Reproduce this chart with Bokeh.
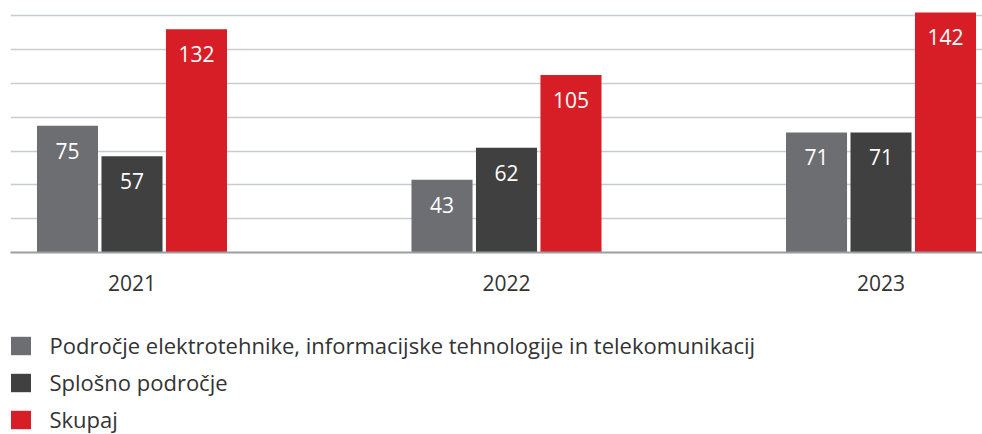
from bokeh.plotting import figure
from bokeh.models import (ColumnDataSource, Range1d, FixedTicker, Legend, LegendItem)
from bokeh.layouts import column
from bokeh.transform import dodge
from bokeh.core.properties import value
from bokeh.embed import file_html
from bokeh.resources import INLINE

years = ["2021", "2022", "2023"]
series_names = [
    "Področje elektrotehnike, informacijske tehnologije in telekomunikacij",
    "Splošno področje",
    "Skupaj",
]
elektro = [75, 43, 71]
splosno = [57, 62, 71]
skupaj = [132, 105, 142]
y_ticks = [0, 20, 40, 60, 80, 100, 120, 140]

colors = ["#6d6e72", "#404040", "#d71e26"]
FONT = "Open Sans"

idx = list(range(len(years)))
src = ColumnDataSource(dict(
    x=idx, elektro=elektro, splosno=splosno, skupaj=skupaj,
    elektro_t=[str(v) for v in elektro],
    splosno_t=[str(v) for v in splosno],
    skupaj_t=[str(v) for v in skupaj],
))

p = figure(width=982, height=300, output_backend="svg", toolbar_location=None,
           x_range=Range1d(-0.3244, 2.2710), y_range=Range1d(0, 149.05),
           min_border_left=10, min_border_right=0, min_border_top=0,
           min_border_bottom=48)
p.outline_line_color = None
p.background_fill_color = "white"
p.border_fill_color = "white"

offs = [-0.1722, 0.0, 0.1722]
keys = ["elektro", "splosno", "skupaj"]
bw = 0.163
for k, o, c in zip(keys, offs, colors):
    p.vbar(x=dodge("x", o), top=k, bottom=0, width=bw, source=src,
           fill_color=c, line_color=None)
    p.text(x=dodge("x", o), y=k, text=k + "_t", source=src,
           text_color="white", text_font=value(FONT), text_font_size="21px",
           text_align="center", text_baseline="middle", y_offset=25)

p.yaxis.visible = False
p.xgrid.visible = False
p.ygrid.ticker = FixedTicker(ticks=y_ticks)
p.ygrid.grid_line_color = "#c7ccd2"
p.ygrid.grid_line_width = 1.5

p.xaxis.ticker = FixedTicker(ticks=idx)
p.xaxis.major_label_overrides = {i: y for i, y in zip(idx, years)}
p.xaxis.axis_line_color = "#9b9da0"
p.xaxis.axis_line_width = 2
p.xaxis.major_tick_line_color = None
p.xaxis.minor_tick_line_color = None
p.xaxis.major_label_standoff = 16
p.xaxis.major_label_text_font = FONT
p.xaxis.major_label_text_font_size = "21px"
p.xaxis.major_label_text_color = "#333333"

# legend panel (same data, bars hidden; only legend swatches are shown)
lg = figure(width=982, height=134, output_backend="svg", toolbar_location=None,
            x_range=Range1d(0, 1), y_range=Range1d(0, 1),
            min_border_left=0, min_border_right=0, min_border_top=0, min_border_bottom=0)
lg.outline_line_color = None
lg.axis.visible = False
lg.grid.visible = False
items = []
for name, k, c in zip(series_names, keys, colors):
    r = lg.vbar(x="x", top=k, bottom=0, width=0.1, source=src,
                fill_color=c, line_color=None, visible=False)
    items.append(LegendItem(label=name, renderers=[r]))
legend = Legend(items=items, location=(-2.5, 0), orientation="vertical",
                glyph_width=25, glyph_height=23, label_height=23,
                label_standoff=17, spacing=7, padding=0, margin=0,
                border_line_color=None, background_fill_alpha=0,
                label_text_font=FONT, label_text_font_size="22px",
                label_text_color="#333333", label_text_baseline="middle")
lg.add_layout(legend, "center")

layout = column(p, lg, spacing=0)
open("out.html", "w").write(file_html(layout, INLINE))
